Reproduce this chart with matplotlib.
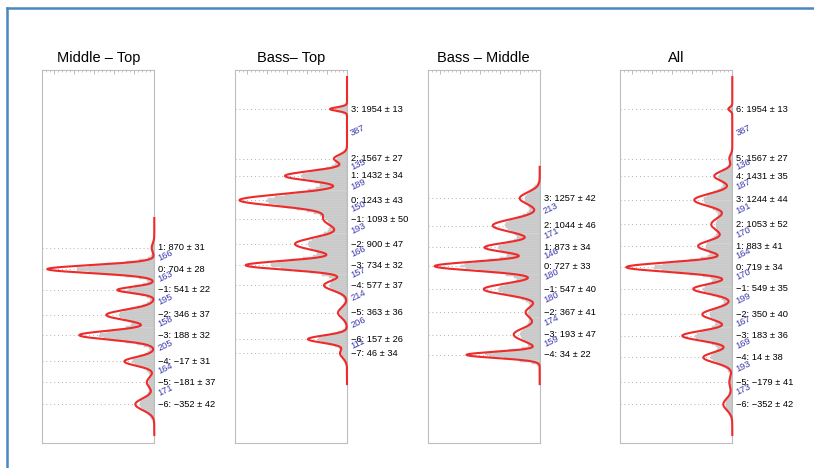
import numpy as np
import matplotlib
matplotlib.use("Agg")
import matplotlib.pyplot as plt
import matplotlib.transforms as mtransforms
from matplotlib.lines import Line2D
from matplotlib.ticker import MultipleLocator

plt.rcParams['font.family'] = ['Liberation Sans', 'DejaVu Sans']

titles = ["Middle \u2013 Top", "Bass\u2013 Top", "Bass \u2013 Middle", "All"]

# Middle - Top
mt_k = [1, 0, -1, -2, -3, -4, -5, -6]
mt_mean = [870, 704, 541, 346, 188, -17, -181, -352]
mt_sd = [31, 28, 22, 37, 32, 31, 37, 42]
mt_height = [2.6, 107, 37, 48, 75, 30, 7.5, 19]
mt_range = [-592, 1103]

# Bass - Top
bt_k = [3, 2, 1, 0, -1, -2, -3, -4, -5, -6, -7]
bt_mean = [1954, 1567, 1432, 1243, 1093, 900, 734, 577, 363, 157, 46]
bt_sd = [13, 27, 34, 43, 50, 47, 32, 37, 36, 26, 34]
bt_height = [17, 13, 62, 107, 23, 52, 101, 23, 9, 39, 7]
bt_range = [-194, 2204]

# Bass - Middle
bm_k = [3, 2, 1, 0, -1, -2, -3, -4]
bm_mean = [1257, 1044, 873, 727, 547, 367, 193, 34]
bm_sd = [42, 46, 34, 33, 40, 41, 47, 22]
bm_height = [20, 47, 55, 105, 56, 14, 26, 73]
bm_range = [-194, 1503]

# All
al_k = [6, 5, 4, 3, 2, 1, 0, -1, -2, -3, -4, -5, -6]
al_mean = [1954, 1567, 1431, 1244, 1053, 883, 719, 549, 350, 183, 14, -179, -352]
al_sd = [13, 27, 35, 44, 52, 41, 34, 35, 40, 36, 38, 41, 42]
al_height = [4, 3, 18, 38, 21, 34, 106, 39, 30, 50, 29, 3, 9]
al_range = [-592, 2204]

panels = [
    (mt_k, mt_mean, mt_sd, mt_height, mt_range),
    (bt_k, bt_mean, bt_sd, bt_height, bt_range),
    (bm_k, bm_mean, bm_sd, bm_height, bm_range),
    (al_k, al_mean, al_sd, al_height, al_range),
]

W, H = 814, 468
fig = plt.figure(figsize=(W / 100, H / 100), dpi=100)

ax_lefts = [42.3, 235.0, 427.7, 620.3]
ax_w = 112.0
ax_top, ax_bot = 70.3, 442.7
ylim = (-652, 2257)
XMAX = 112.0

red = '#ee2a2a'
blue = '#3c3cb0'


def fmt(v):
    return str(v).replace('-', '\u2212')


def mixture(y, mean_a, sd_a, h_a):
    y = np.asarray(y, float)[:, None]
    return (h_a * np.exp(-0.5 * ((y - mean_a) / sd_a) ** 2)).sum(axis=1)


for i, (k, mean, sd, height, rng) in enumerate(panels):
    ax = fig.add_axes([ax_lefts[i] / W, (H - ax_bot) / H, ax_w / W, (ax_bot - ax_top) / H])
    ax.set_xlim(XMAX, 0)
    ax.set_ylim(*ylim)
    mean_a = np.array(mean, float)
    sd_a = np.array(sd, float)
    h_a = np.array(height, float)

    # dotted guide lines
    ax.hlines(mean, XMAX, 0, colors='#b0b0b0', linestyles=(0, (1, 3)), lw=0.7, zorder=1)

    # histogram-like bars (broader, lower than the fitted curve)
    binw = 16
    centers = np.arange(rng[0] + binw / 2, rng[1], binw)
    hist_h = mixture(centers, mean_a, sd_a * 1.4, h_a * 0.74)
    ax.barh(centers, hist_h, height=binw, color='#d2d2d2',
            edgecolor='#bababa', linewidth=0.3, zorder=2)

    # fitted curve
    grid = np.linspace(rng[0], rng[1], 2000)
    ax.plot(mixture(grid, mean_a, sd_a * 1.1, h_a), grid, color=red, lw=1.5,
            zorder=4, clip_on=False, solid_joinstyle='round')

    for s in ax.spines.values():
        s.set_color('#bdbdbd')
        s.set_linewidth(0.8)
    ax.set_yticks([])
    ax.xaxis.set_ticks_position('top')
    ax.xaxis.set_major_locator(MultipleLocator(20))
    ax.xaxis.set_minor_locator(MultipleLocator(4))
    ax.tick_params(axis='x', which='major', direction='in', length=3, width=0.5,
                   color='#a0a0a0', labeltop=False, labelbottom=False)
    ax.tick_params(axis='x', which='minor', direction='in', length=1.5, width=0.4,
                   color='#a0a0a0')

    ax.set_title(titles[i], fontsize=10.5, pad=6)

    trans = mtransforms.blended_transform_factory(ax.transAxes, ax.transData)
    xoff = 1 + 4 / ax_w
    for kk, m, s in zip(k, mean, sd):
        ax.text(xoff, m, f"{fmt(kk)}: {fmt(m)} \u00b1 {s}", transform=trans,
                fontsize=6.7, ha='left', va='center', clip_on=False, zorder=5)
    for m1, m2 in zip(mean[:-1], mean[1:]):
        ax.text(xoff, (m1 + m2) / 2, str(m1 - m2), transform=trans,
                fontsize=6.7, color=blue, ha='left', va='center', rotation=25,
                rotation_mode='anchor', clip_on=False, zorder=5)

# outer blue frame (left and top edges)
fig.add_artist(Line2D([7 / W, 7 / W], [0, 1 - 8 / H], transform=fig.transFigure,
                      color='#4a88bd', lw=1.8))
fig.add_artist(Line2D([7 / W, 1], [1 - 8 / H, 1 - 8 / H], transform=fig.transFigure,
                      color='#4a88bd', lw=1.8))

fig.savefig('out.png', dpi=100)
